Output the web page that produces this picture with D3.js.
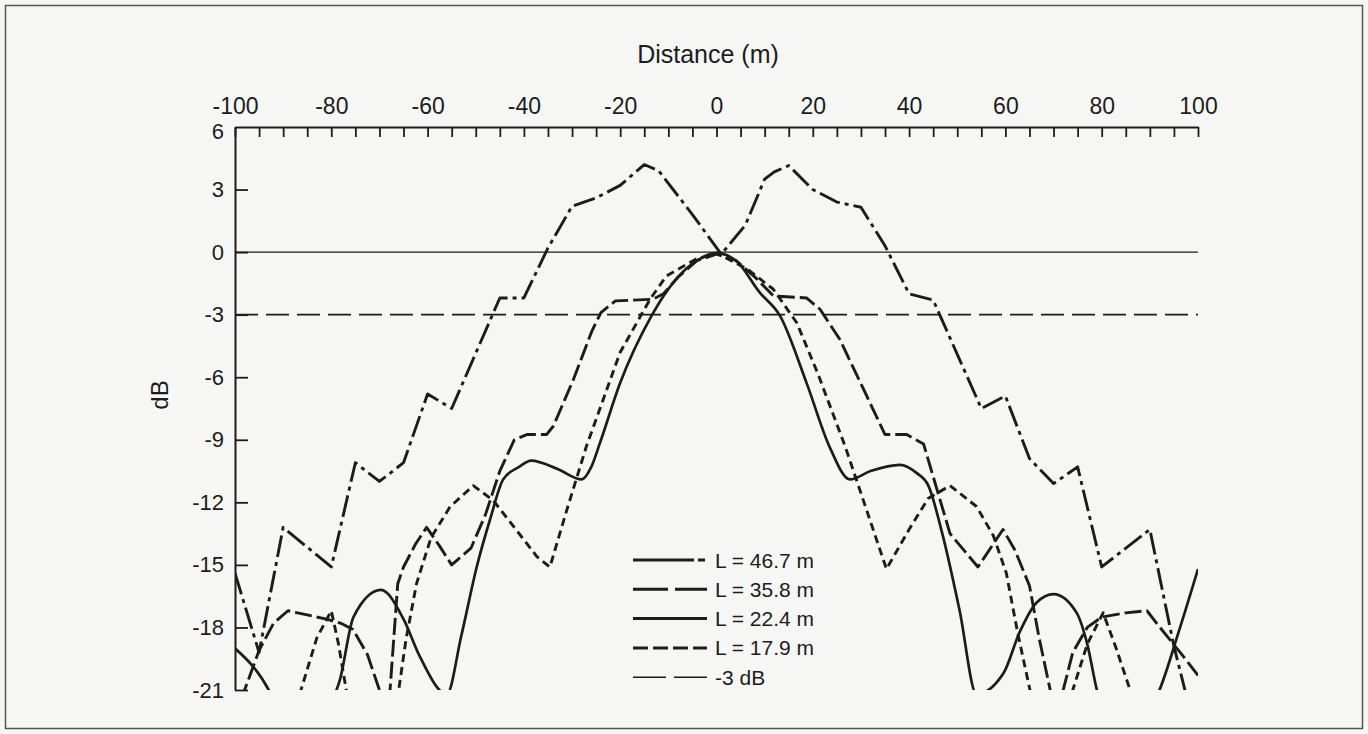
<!DOCTYPE html>
<html>
<head>
<meta charset="utf-8">
<script src="https://cdn.jsdelivr.net/npm/d3@7"></script>
<style>
  body { margin: 0; background: #f6f7f5; }
  text { font-family: "Liberation Sans", Arial, sans-serif; fill: #1c1c1c; }
</style>
</head>
<body>
<svg id="chart"></svg>
<script>
// --- data (distance m, level dB) ---
const xLabelTicks = [-100, -80, -60, -40, -20, 0, 20, 40, 60, 80, 100];
const yTicks = [6, 3, 0, -3, -6, -9, -12, -15, -18, -21];
const refLevels = [0, -3];
const legendLabels = ['L = 46.7 m', 'L = 35.8 m', 'L = 22.4 m', 'L = 17.9 m', '-3 dB'];

const l467 = [[-100, -15.4], [-95, -19.2], [-90, -13.2], [-80, -15.1], [-75, -10.1], [-70, -11.0],
  [-65, -10.1], [-60, -6.8], [-55, -7.5], [-45, -2.2], [-40, -2.2], [-35, 0.2], [-30, 2.2],
  [-25, 2.6], [-20, 3.2], [-15, 4.2], [-12, 3.9], [-5, 1.8], [1, -0.1], [6, 1.3], [10, 3.5],
  [12, 3.85], [15, 4.15], [20, 3.0], [25, 2.4], [30, 2.15], [35, 0.3], [40, -2.0], [45, -2.3],
  [55, -7.5], [60, -6.9], [65, -9.9], [70, -11.1], [75, -10.3], [80, -15.1], [90, -13.3],
  [95, -18.9], [100, -23.5]];

const l358 = [[-100, -22.5], [-98, -21], [-95, -19.1], [-92, -17.8], [-89, -17.2], [-85, -17.4],
  [-81, -17.6], [-78, -17.8], [-75.5, -18.1], [-72.5, -19.3], [-70, -21], [-69, -24], [-67.8, -21],
  [-66.2, -15.9], [-65, -15.1], [-62.5, -14], [-60.2, -13.2], [-57.5, -14.1], [-55, -15],
  [-51, -14.2], [-48, -12.6], [-45, -10.5], [-42, -9.0], [-39.4, -8.75], [-35.3, -8.75],
  [-33.9, -8.35], [-29.7, -6.1], [-25.9, -3.8], [-24, -2.9], [-21, -2.34], [-13.2, -2.26],
  [-11, -2.0], [-8, -1.2], [-4, -0.4], [0, -0.1], [4, -0.4], [8, -1.2], [11.8, -2.1],
  [18.7, -2.2], [21.5, -2.74], [25.6, -4.18], [31.2, -6.9], [35, -8.75], [39.5, -8.75],
  [43, -9.2], [48.5, -13.5], [54.3, -15.1], [59.5, -13.3], [62, -14.3], [65, -16], [67, -18.5],
  [69.3, -21], [70.5, -24], [72, -21], [74, -19.2], [77, -18.0], [80, -17.5], [85, -17.3],
  [89.4, -17.2], [92.1, -18], [94.2, -18.6], [97, -19.4], [100, -20.3]];

const l224 = [[-100, -19.0], [-93, -21], [-90, -22.5], [-86, -23], [-81, -22], [-78.2, -20.5],
  [-75.4, -17.5], [-69.7, -16.2], [-65, -17.6], [-61.6, -19.4], [-56, -21.2], [-53, -18.4],
  [-49.8, -15.1], [-47, -12.8], [-44.3, -10.9], [-41, -10.3], [-38.5, -10.0], [-33, -10.4],
  [-28, -10.9], [-26, -10.3], [-24.2, -9.15], [-20, -6.27], [-13.5, -3.06], [-11, -2.1],
  [-8, -1.2], [-4, -0.4], [0, -0.05], [4, -0.4], [9, -1.94], [13.2, -3.06], [18.7, -6.27],
  [23.6, -9.4], [27.7, -10.9], [32, -10.5], [38.1, -10.2], [41.6, -10.6], [44, -11.2],
  [47, -13.6], [50.5, -17.2], [54, -21.2], [59.6, -20.2], [63, -18.2], [66.5, -16.8],
  [70, -16.4], [74.8, -17.3], [77, -18.8], [79, -21], [82, -23], [86, -23], [92, -21],
  [96, -18.2], [100, -15.2]];

const l179 = [[-100, -26], [-88, -24], [-86.3, -21], [-83, -18.5], [-80, -17.2], [-78.5, -18.8],
  [-76.9, -21], [-75, -24], [-70, -26], [-67, -23], [-66, -21], [-64.5, -18.6], [-62.3, -15.9],
  [-59.3, -13.7], [-55.3, -12.2], [-50.5, -11.2], [-46.4, -11.9], [-42, -13.2], [-37.3, -14.6],
  [-34.6, -15.1], [-31, -12.3], [-27, -9.3], [-20, -4.8], [-13.8, -2.26], [-10.4, -1.14],
  [-4.3, -0.34], [0, -0.05], [6.3, -0.8], [11.8, -1.78], [16.7, -3.4], [21, -5.8], [26.7, -9.3],
  [35.3, -15.2], [40, -13.3], [44, -11.8], [48.5, -11.2], [54, -12.2], [57.5, -13.6],
  [60.2, -15.4], [62.5, -18.2], [65.1, -21], [67, -25], [72, -25], [74, -21], [77, -18.8],
  [80.3, -17.3], [83, -19], [85.9, -21], [88, -24], [100, -26]];

const series = [
  { data: l467, dash: '22,5,4,5', legendDash: '61,4,7,40', curve: d3.curveLinear, w: 2.9 },
  { data: l358, dash: '17,5', legendDash: '35,7', curve: d3.curveLinear, w: 2.9 },
  { data: l224, dash: null, legendDash: null, curve: d3.curveMonotoneX, w: 2.7 },
  { data: l179, dash: '8,5', legendDash: '15,5', curve: d3.curveLinear, w: 2.9 }
];

// --- layout ---
const width = 1368;
const height = 734;
const plot = { left: 235, right: 1198, top: 127, bottom: 690 };
const ink = '#1c1c1c';

const svg = d3.select('#chart')
  .attr('width', width)
  .attr('height', height);

svg.append('rect')
  .attr('x', 5.5).attr('y', 5.5)
  .attr('width', width - 11).attr('height', height - 11)
  .attr('fill', '#f6f7f5')
  .attr('stroke', '#555').attr('stroke-width', 1.5);

const x = d3.scaleLinear().domain([-100, 100]).range([plot.left, plot.right]);
const y = d3.scaleLinear().domain([-21, 6]).range([plot.bottom, plot.top]);

svg.append('defs').append('clipPath').attr('id', 'plotClip')
  .append('rect')
  .attr('x', plot.left).attr('y', plot.top)
  .attr('width', plot.right - plot.left).attr('height', plot.bottom - plot.top);

// x axis on top, ticks pointing into the plot
const xAxis = d3.axisTop(x)
  .tickValues(d3.range(-100, 101, 5))
  .tickSizeInner(-10)
  .tickSizeOuter(0)
  .tickPadding(13)
  .tickFormat(d => (xLabelTicks.includes(d) ? String(d) : ''));

const gx = svg.append('g')
  .attr('transform', `translate(0,${plot.top})`)
  .call(xAxis);

// y axis on the left, ticks pointing inward
const yAxis = d3.axisLeft(y)
  .tickValues(yTicks)
  .tickSizeInner(-13)
  .tickSizeOuter(0)
  .tickPadding(11)
  .tickFormat(d => String(d));

const gy = svg.append('g')
  .attr('transform', `translate(${plot.left},0)`)
  .call(yAxis);

[gx, gy].forEach(g => {
  g.select('.domain').attr('stroke', ink).attr('stroke-width', 2);
  g.selectAll('.tick line').attr('stroke', ink).attr('stroke-width', 1.8);
  g.selectAll('.tick text')
    .attr('fill', ink)
    .style('font-family', '"Liberation Sans", Arial, sans-serif');
});
gx.selectAll('.tick text').style('font-size', '23px');
gy.selectAll('.tick text').style('font-size', '22px');
gy.selectAll('.tick').filter(d => d === 6).select('line').remove();
gy.selectAll('.tick').filter(d => d === 6).select('text').attr('y', 4);

// axis titles
svg.append('text')
  .attr('x', 708)
  .attr('y', 63)
  .attr('text-anchor', 'middle')
  .style('font-size', '25px')
  .text('Distance (m)');

svg.append('text')
  .attr('transform', 'translate(168,395) rotate(-90)')
  .attr('text-anchor', 'middle')
  .style('font-size', '24px')
  .text('dB');

// reference lines
const gPlot = svg.append('g').attr('clip-path', 'url(#plotClip)');

gPlot.selectAll('line.ref')
  .data(refLevels)
  .join('line')
  .attr('class', 'ref')
  .attr('x1', x(-100)).attr('x2', x(100))
  .attr('y1', d => y(d)).attr('y2', d => y(d))
  .attr('stroke', ink)
  .attr('stroke-width', d => (d === 0 ? 1.3 : 1.6))
  .attr('stroke-dasharray', d => (d === 0 ? null : '23,8'));

// curves
series.forEach(s => {
  const line = d3.line()
    .x(d => x(d[0]))
    .y(d => y(d[1]))
    .curve(s.curve);
  gPlot.append('path')
    .datum(s.data)
    .attr('d', line)
    .attr('fill', 'none')
    .attr('stroke', ink)
    .attr('stroke-width', s.w)
    .attr('stroke-linejoin', 'round')
    .attr('stroke-dasharray', s.dash);
});

// legend
const legendRows = legendLabels.map((label, i) => ({
  label,
  dash: i < 4 ? series[i].legendDash : '33,8',
  w: i < 4 ? 3 : 1.6
}));

const legend = svg.append('g').attr('transform', 'translate(633,560)');
const row = legend.selectAll('g')
  .data(legendRows)
  .join('g')
  .attr('transform', (d, i) => `translate(0,${i * 29.3})`);

row.append('line')
  .attr('x1', 0).attr('x2', 74)
  .attr('stroke', ink)
  .attr('stroke-width', d => d.w)
  .attr('stroke-dasharray', d => d.dash);

row.append('text')
  .attr('x', 82)
  .attr('dy', '0.36em')
  .style('font-size', '21px')
  .text(d => d.label);
</script>
</body>
</html>
